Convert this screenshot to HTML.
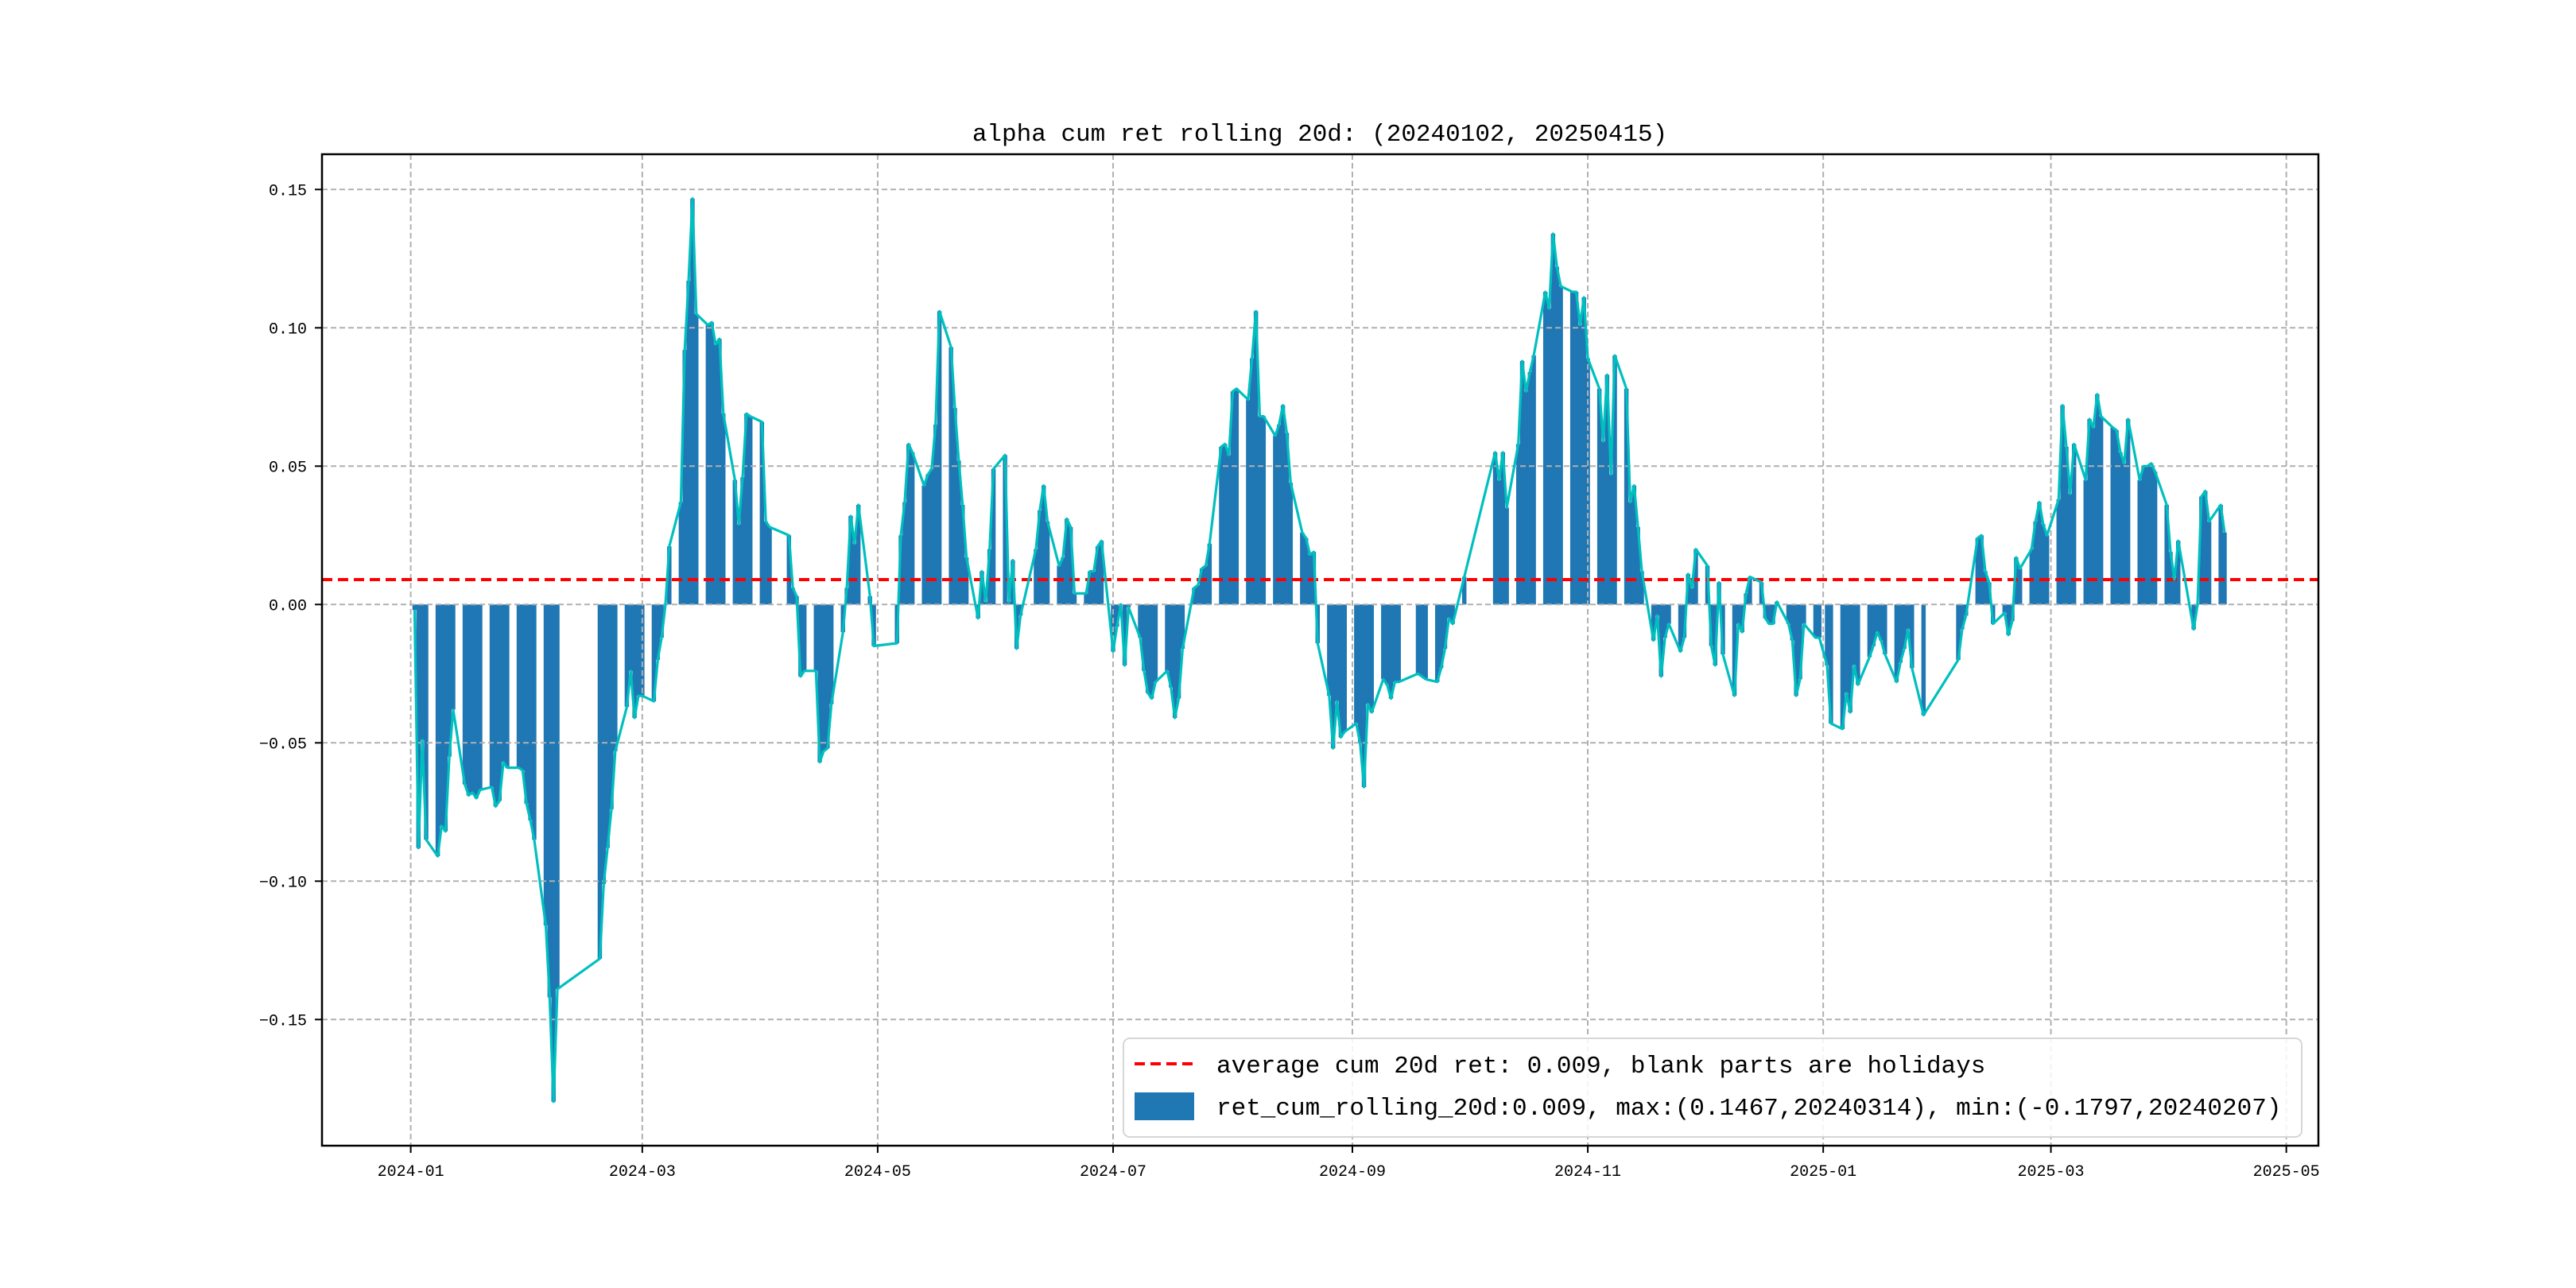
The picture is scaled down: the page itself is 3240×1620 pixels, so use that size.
<!DOCTYPE html>
<html>
<head>
<meta charset="utf-8">
<style>
  html, body { margin: 0; padding: 0; background: #ffffff; }
  svg { display: block; }
  text { font-family: "Liberation Mono", "Noto Sans CJK SC", monospace; fill: #000; }
</style>
</head>
<body>
<svg id="chart" width="3240" height="1620" viewBox="0 0 3240 1620" xmlns="http://www.w3.org/2000/svg">
  <rect x="0" y="0" width="3240" height="1620" fill="#ffffff"/>
  <text x="1660" y="177" font-size="31" text-anchor="middle">alpha cum ret rolling 20d: (20240102, 20250415)</text>
  <g id="grid"></g>
  <g id="bars"></g>
  <g id="gridTop"></g>
  <g id="lineg"></g>
  <g id="axes"></g>
  <g id="legend">
    <rect x="1413" y="1306" width="1482" height="124" rx="8" fill="#ffffff" fill-opacity="0.85" stroke="#d6d6d6" stroke-width="2"/>
    <line x1="1427" y1="1338" x2="1503" y2="1338" stroke="#ff0000" stroke-width="4" stroke-dasharray="13,7"/>
    <text x="1530" y="1349" font-size="31">average cum 20d ret: 0.009, blank parts are holidays</text>
    <rect x="1427" y="1374" width="75" height="35" fill="#1f77b4"/>
    <text x="1530" y="1402" font-size="31">ret_cum_rolling_20d:0.009, max:(0.1467,20240314), min:(-0.1797,20240207)</text>
  </g>
</svg>
<script>
const dates = [
"20240102","20240103","20240104","20240105","20240108","20240109","20240110","20240111","20240112","20240115","20240116","20240117","20240118","20240119","20240122","20240123","20240124","20240125","20240126","20240129","20240130","20240131",
"20240201","20240202","20240205","20240206","20240207","20240208","20240219","20240220","20240221","20240222","20240223","20240226","20240227","20240228","20240229",
"20240301","20240304","20240305","20240306","20240307","20240308","20240311","20240312","20240313","20240314","20240315","20240318","20240319","20240320","20240321","20240322","20240325","20240326","20240327","20240328","20240329",
"20240401","20240402","20240403","20240408","20240409","20240410","20240411","20240412","20240415","20240416","20240417","20240418","20240419","20240422","20240423","20240424","20240425","20240426","20240429","20240430",
"20240506","20240507","20240508","20240509","20240510","20240513","20240514","20240515","20240516","20240517","20240520","20240521","20240522","20240523","20240524","20240527","20240528","20240529","20240530","20240531",
"20240603","20240604","20240605","20240606","20240607","20240611","20240612","20240613","20240614","20240617","20240618","20240619","20240620","20240621","20240624","20240625","20240626","20240627","20240628",
"20240701","20240702","20240703","20240704","20240705","20240708","20240709","20240710","20240711","20240712","20240715","20240716","20240717","20240718","20240719","20240722","20240723","20240724","20240725","20240726","20240729","20240730","20240731",
"20240801","20240802","20240805","20240806","20240807","20240808","20240809","20240812","20240813","20240814","20240815","20240816","20240819","20240820","20240821","20240822","20240823","20240826","20240827","20240828","20240829","20240830",
"20240902","20240903","20240904","20240905","20240906","20240909","20240910","20240911","20240912","20240913","20240918","20240919","20240920","20240923","20240924","20240925","20240926","20240927","20240930",
"20241008","20241009","20241010","20241011","20241014","20241015","20241016","20241017","20241018","20241021","20241022","20241023","20241024","20241025","20241028","20241029","20241030","20241031",
"20241101","20241104","20241105","20241106","20241107","20241108","20241111","20241112","20241113","20241114","20241115","20241118","20241119","20241120","20241121","20241122","20241125","20241126","20241127","20241128","20241129",
"20241202","20241203","20241204","20241205","20241206","20241209","20241210","20241211","20241212","20241213","20241216","20241217","20241218","20241219","20241220","20241223","20241224","20241225","20241226","20241227","20241230","20241231",
"20250102","20250103","20250106","20250107","20250108","20250109","20250110","20250113","20250114","20250115","20250116","20250117","20250120","20250121","20250122","20250123","20250124","20250127",
"20250205","20250206","20250207","20250210","20250211","20250212","20250213","20250214","20250217","20250218","20250219","20250220","20250221","20250224","20250225","20250226","20250227","20250228",
"20250303","20250304","20250305","20250306","20250307","20250310","20250311","20250312","20250313","20250314","20250317","20250318","20250319","20250320","20250321","20250324","20250325","20250326","20250327","20250328","20250331",
"20250401","20250402","20250403","20250407","20250408","20250409","20250410","20250411","20250414","20250415"
];
const values = [
-0.002,-0.088,-0.049,-0.085,-0.091,-0.080,-0.082,-0.055,-0.038,-0.065,-0.069,-0.068,-0.070,-0.067,-0.066,-0.073,-0.071,-0.057,-0.059,-0.059,-0.060,-0.072,
-0.078,-0.085,-0.116,-0.142,-0.1797,-0.139,-0.128,-0.101,-0.088,-0.074,-0.053,-0.037,-0.024,-0.041,-0.033,
-0.033,-0.035,-0.020,-0.012,0.000,0.021,0.037,0.092,0.117,0.1467,0.105,0.101,0.102,0.094,0.096,0.069,0.045,0.029,0.046,0.069,0.068,
0.066,0.030,0.028,0.025,0.006,0.003,-0.026,-0.024,-0.024,-0.057,-0.053,-0.052,-0.036,-0.010,0.006,0.032,0.022,0.036,0.003,-0.015,
-0.014,0.025,0.037,0.058,0.055,0.043,0.047,0.049,0.065,0.106,0.093,0.071,0.052,0.036,0.017,-0.005,0.012,0.001,0.020,0.049,
0.054,0.001,0.016,-0.016,-0.004,0.020,0.034,0.043,0.030,0.014,0.017,0.031,0.028,0.004,0.004,0.012,0.012,0.021,0.023,
-0.017,-0.008,0.000,-0.022,-0.001,-0.012,-0.024,-0.032,-0.034,-0.028,-0.024,-0.030,-0.041,-0.034,-0.016,0.006,0.007,0.013,0.014,0.022,0.057,0.058,0.054,
0.077,0.078,0.074,0.089,0.106,0.068,0.068,0.061,0.065,0.072,0.062,0.044,0.026,0.024,0.018,0.019,-0.014,-0.033,-0.052,-0.035,-0.048,-0.046,
-0.043,-0.050,-0.066,-0.036,-0.039,-0.027,-0.029,-0.034,-0.028,-0.028,-0.025,-0.026,-0.027,-0.028,-0.023,-0.016,-0.005,-0.007,0.010,
0.055,0.045,0.055,0.035,0.058,0.088,0.077,0.084,0.090,0.113,0.107,0.134,0.122,0.115,0.113,0.113,0.101,0.111,
0.089,0.078,0.059,0.083,0.047,0.090,0.078,0.037,0.043,0.028,0.012,-0.013,-0.004,-0.026,-0.012,-0.007,-0.017,-0.012,0.011,0.006,0.020,
0.014,-0.015,-0.022,0.008,-0.018,-0.033,-0.007,-0.010,0.004,0.010,0.008,-0.005,-0.007,-0.007,0.001,-0.007,-0.013,-0.033,-0.027,-0.007,-0.012,-0.012,
-0.022,-0.043,-0.045,-0.032,-0.039,-0.022,-0.029,-0.019,-0.015,-0.010,-0.013,-0.018,-0.028,-0.021,-0.016,-0.009,-0.023,-0.040,
-0.020,-0.009,-0.004,0.024,0.025,0.012,0.008,-0.007,-0.003,-0.011,-0.006,0.017,0.013,0.020,0.030,0.037,0.029,0.025,
0.038,0.072,0.057,0.040,0.058,0.045,0.067,0.064,0.076,0.068,0.064,0.063,0.055,0.051,0.067,0.045,0.050,0.050,0.051,0.048,0.036,
0.019,0.009,0.023,-0.009,0.000,0.039,0.041,0.030,0.036,0.026
];
const averageValue = [0.009];
const yTickValues = [-0.15, -0.10, -0.05, 0.00, 0.05, 0.10, 0.15];
const yTickLabels = ["\u22120.15", "\u22120.10", "\u22120.05", "0.00", "0.05", "0.10", "0.15"];
const xTickDates = ["20240101","20240301","20240501","20240701","20240901","20241101","20250101","20250301","20250501"];
const xTickLabels = ["2024-01","2024-03","2024-05","2024-07","2024-09","2024-11","2025-01","2025-03","2025-05"];

const NS = "http://www.w3.org/2000/svg";
const AX = {left: 405, right: 2916, top: 194, bottom: 1441};
const X0 = Date.UTC(2024, 0, 1);
const PX_PER_DAY = 4.854;
const X_AT_0 = 516.6;
const Y_ZERO = 760.3;
const PX_PER_UNIT = 3480;

function dayNum(s) {
  const t = Date.UTC(+s.slice(0,4), +s.slice(4,6)-1, +s.slice(6,8));
  return (t - X0) / 86400000;
}
function xScale(s) { return X_AT_0 + dayNum(s) * PX_PER_DAY; }
function yScale(v) { return Y_ZERO - v * PX_PER_UNIT; }
function mk(tag, attrs, parent) {
  const e = document.createElementNS(NS, tag);
  for (const k in attrs) e.setAttribute(k, attrs[k]);
  parent.appendChild(e);
  return e;
}

const gridTop = document.getElementById('gridTop');
const bars = document.getElementById('bars');
const lineg = document.getElementById('lineg');
const axes = document.getElementById('axes');

for (let i = 0; i < xTickDates.length; i++) {
  const x = xScale(xTickDates[i]);
  const g = mk('line', {x1: x, y1: AX.top, x2: x, y2: AX.bottom, stroke: '#b0b0b0', 'stroke-width': 2, 'stroke-dasharray': '7,4'}, gridTop);
  
  
}
for (let i = 0; i < yTickValues.length; i++) {
  const y = yScale(yTickValues[i]);
  const g = mk('line', {x1: AX.left, y1: y, x2: AX.right, y2: y, stroke: '#b0b0b0', 'stroke-width': 2, 'stroke-dasharray': '7,4'}, gridTop);
  
  
}

const barW = PX_PER_DAY + 0.6;
for (let i = 0; i < dates.length; i++) {
  const x = xScale(dates[i]);
  const y0 = yScale(0), y1 = yScale(values[i]);
  const r = mk('rect', {x: x - barW/2, y: Math.min(y0, y1), width: barW, height: Math.abs(y1 - y0), fill: '#1f77b4'}, bars);
  
  
}

const avgY = yScale(averageValue[0]);
const avg = mk('line', {x1: AX.left, y1: avgY, x2: AX.right, y2: avgY, stroke: '#ff0000', 'stroke-width': 4, 'stroke-dasharray': '13,7'}, lineg);



let d = '';
for (let i = 0; i < dates.length; i++) {
  d += (i ? 'L' : 'M') + xScale(dates[i]).toFixed(2) + ',' + yScale(values[i]).toFixed(2);
}
const pl = mk('path', {d: d, fill: 'none', stroke: '#00bfbf', 'stroke-width': 3.2, 'stroke-linejoin': 'round'}, lineg);



const fr = mk('rect', {x: AX.left, y: AX.top, width: AX.right - AX.left, height: AX.bottom - AX.top, fill: 'none', stroke: '#000', 'stroke-width': 2.5}, axes);



for (let i = 0; i < xTickDates.length; i++) {
  const x = xScale(xTickDates[i]);
  const t = mk('line', {x1: x, y1: AX.bottom, x2: x, y2: AX.bottom + 9, stroke: '#000', 'stroke-width': 2}, axes);
  
  
  const lb = mk('text', {x: x, y: AX.bottom + 38, 'font-size': 20, 'text-anchor': 'middle'}, axes);
  lb.textContent = xTickLabels[i];
  
  
}
for (let i = 0; i < yTickValues.length; i++) {
  const y = yScale(yTickValues[i]);
  const t = mk('line', {x1: AX.left - 9, y1: y, x2: AX.left, y2: y, stroke: '#000', 'stroke-width': 2}, axes);
  
  
  const lb = mk('text', {x: 386, y: y + 7, 'font-size': 20, 'text-anchor': 'end'}, axes);
  lb.textContent = yTickLabels[i];
  
  
}
</script>
</body>
</html>
